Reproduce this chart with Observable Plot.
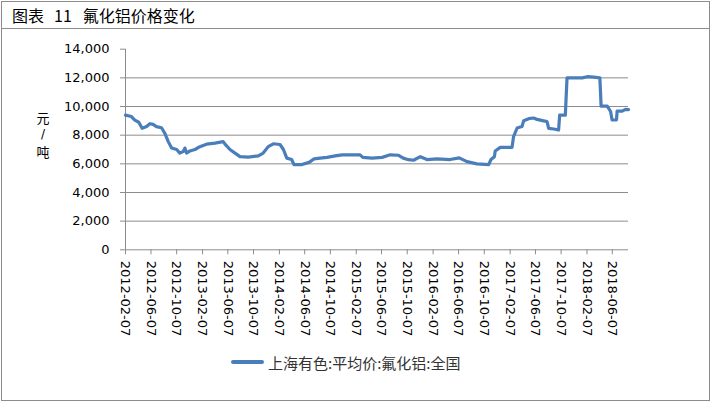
<!DOCTYPE html>
<html><head><meta charset="utf-8">
<script src="https://cdn.jsdelivr.net/npm/d3@7"></script>
<script src="https://cdn.jsdelivr.net/npm/@observablehq/plot@0.6"></script>
<style>
body{margin:0;background:#fff;}
#wrap{position:relative;width:715px;height:404px;overflow:hidden;background:#fff;font-family:"Noto Sans CJK SC",sans-serif;}
#frame{position:absolute;left:1px;top:1px;width:709px;height:400px;border:1px solid #8c8c8c;box-sizing:border-box;}
#sep{position:absolute;left:1px;top:28px;width:709px;height:0;border-top:1px solid #8c8c8c;}
#title{position:absolute;left:12px;top:4px;font-size:16px;line-height:22px;color:#000;white-space:nowrap;}
#title span{display:inline-block;}
.yl{position:absolute;left:33px;width:20px;text-align:center;color:#000;}
.yc{font-size:13px;line-height:19px;height:19px;}
.ys{font-family:"DejaVu Sans";font-size:12px;line-height:14px;height:14px;}
#legend{position:absolute;left:231px;top:352px;height:20px;display:flex;align-items:center;}
#legend .sw{width:33px;height:0;border-top:4px solid #4A7EBB;border-radius:2px;margin-right:4px;}
#legend .tx{font-size:15px;color:#333;}
#chart{position:absolute;left:0;top:0;}
</style>
</head><body>
<div id="wrap">
  <div id="chart"></div>
  <div id="frame"></div>
  <div id="sep"></div>
  <div id="title"><span>图表</span><span style="margin-left:10px">11</span><span style="margin-left:11px">氟化铝价格变化</span></div>
  <div class="yl yc" style="top:107.5px">元</div>
  <div class="yl ys" style="top:127px">/</div>
  <div class="yl yc" style="top:141.5px">吨</div>
  <div id="legend"><div class="sw"></div><div class="tx">上海有色:平均价:氟化铝:全国</div></div>
</div>
<script>
const seriesName = "上海有色:平均价:氟化铝:全国";
const dates = [
"2012-02-07","2012-03-06","2012-03-22","2012-04-10","2012-04-26","2012-05-17","2012-06-02","2012-06-17","2012-07-03","2012-07-27",
"2012-08-12","2012-08-28","2012-09-13","2012-10-07","2012-10-22","2012-11-07","2012-11-15","2012-11-23","2012-12-09","2013-01-02",
"2013-01-25","2013-02-26","2013-04-07","2013-05-16","2013-05-28","2013-06-17","2013-07-11","2013-08-04","2013-09-12","2013-10-30",
"2013-11-22","2013-12-16","2014-01-09","2014-02-10","2014-02-26","2014-03-14","2014-04-06","2014-04-17","2014-05-25","2014-06-28",
"2014-07-22","2014-08-19","2014-09-21","2014-10-30","2014-12-02","2015-02-25","2015-03-10","2015-04-23","2015-06-10","2015-07-18",
"2015-08-25","2015-09-18","2015-10-13","2015-11-06","2015-12-08","2016-01-09","2016-02-25","2016-04-28","2016-06-10","2016-07-17",
"2016-09-02","2016-10-28","2016-11-08","2016-11-24","2016-11-28","2016-12-22","2017-02-16","2017-02-23","2017-03-12","2017-04-04",
"2017-04-12","2017-05-06","2017-05-30","2017-06-15","2017-07-16","2017-08-01","2017-08-09","2017-09-02","2017-09-25","2017-09-30",
"2017-10-27","2017-11-04","2018-01-15","2018-02-08","2018-03-11","2018-04-09","2018-04-15","2018-05-14","2018-05-30","2018-06-06",
"2018-06-27","2018-06-30","2018-07-24","2018-08-09","2018-08-23"
];
const prices = [
9400,9300,9050,8900,8480,8600,8800,8750,8600,8520,
8130,7550,7100,7000,6750,6850,7100,6750,6900,7000,
7200,7370,7450,7550,7320,7000,6750,6500,6470,6560,
6750,7200,7400,7350,7000,6400,6300,5950,5950,6100,
6350,6400,6450,6550,6630,6630,6450,6400,6450,6630,
6600,6400,6290,6250,6500,6300,6350,6300,6420,6150,
6000,5950,6300,6500,6900,7150,7150,7900,8500,8600,
9000,9150,9200,9100,9000,8950,8480,8430,8360,9400,
9400,12000,12000,12080,12050,12000,10030,10030,9650,9060,
9060,9680,9680,9800,9780
];
const xTickLabels = ["2012-02-07","2012-06-07","2012-10-07","2013-02-07","2013-06-07","2013-10-07","2014-02-07","2014-06-07","2014-10-07","2015-02-07","2015-06-07","2015-10-07","2016-02-07","2016-06-07","2016-10-07","2017-02-07","2017-06-07","2017-10-07","2018-02-07","2018-06-07"];
const yTicks = [0,2000,4000,6000,8000,10000,12000,14000];
const gridValues = [2000,4000,6000,8000,10000,12000];

const data = dates.map((d,i)=>({date:new Date(d), value:prices[i]}));
const xTicks = xTickLabels.map(s=>new Date(s));
const x0 = new Date(dates[0]), x1 = new Date(dates[dates.length-1]);

const chart = Plot.plot({
  width: 715, height: 404,
  marginLeft: 125, marginRight: 87, marginTop: 48.7, marginBottom: 154.7,
  style: {fontFamily: "DejaVu Sans", fontSize: "13px", color: "#000", background: "transparent", overflow: "visible"},
  x: {type: "utc", domain: [x0, x1]},
  y: {domain: [0, 14000]},
  marks: [
    Plot.ruleY(gridValues, {stroke: "#8c8c8c", strokeWidth: 1}),
    Plot.ruleY([0], {stroke: "#8c8c8c", strokeWidth: 1}),
    Plot.ruleX([x0], {y1: 0, y2: 14000, stroke: "#8c8c8c", strokeWidth: 1}),
    Plot.axisY({ticks: yTicks, tickSize: 5, tickPadding: 11, tickFormat: d3.format(","), label: null, stroke: "#8c8c8c", fill: "#000"}),
    Plot.axisX({ticks: xTicks, tickSize: 5, tickPadding: 6, tickRotate: 90, tickFormat: d3.utcFormat("%Y-%m-%d"), label: null, stroke: "#8c8c8c", fill: "#000"}),
    Plot.line(data, {x: "date", y: "value", stroke: "#4A7EBB", strokeWidth: 3.2, strokeLinejoin: "round", title: () => seriesName})
  ]
});
document.getElementById("chart").appendChild(chart);
</script>
</body></html>
